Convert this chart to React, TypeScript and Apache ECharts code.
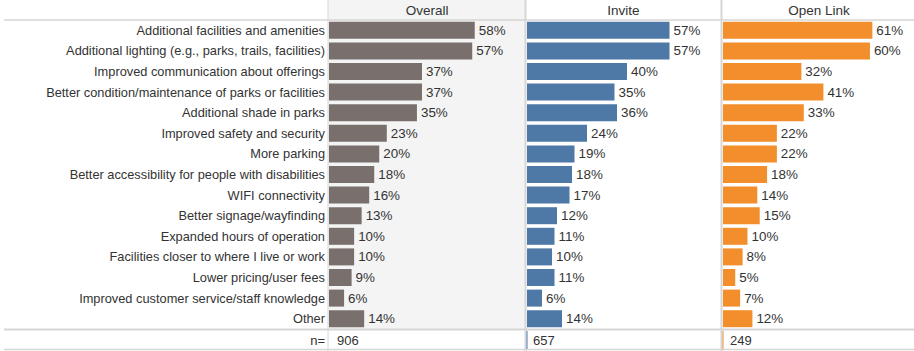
import React, { useEffect, useRef } from "react";
import * as echarts from "echarts";

const categories = [
  "Additional facilities and amenities",
  "Additional lighting (e.g., parks, trails, facilities)",
  "Improved communication about offerings",
  "Better condition/maintenance of parks or facilities",
  "Additional shade in parks",
  "Improved safety and security",
  "More parking",
  "Better accessibility for people with disabilities",
  "WIFI connectivity",
  "Better signage/wayfinding",
  "Expanded hours of operation",
  "Facilities closer to where I live or work",
  "Lower pricing/user fees",
  "Improved customer service/staff knowledge",
  "Other",
];
const overall = [58, 57, 37, 37, 35, 23, 20, 18, 16, 13, 10, 10, 9, 6, 14];
const invite = [57, 57, 40, 35, 36, 24, 19, 18, 17, 12, 11, 10, 11, 6, 14];
const openLink = [61, 60, 32, 41, 33, 22, 22, 18, 14, 15, 10, 8, 5, 7, 12];
const panelNames = ["Overall", "Invite", "Open Link"];
const nValues = [906, 657, 249];

const FONT = "'Liberation Sans', Arial, sans-serif";

export default function App() {
  const ref = useRef<HTMLDivElement>(null);
  useEffect(() => {
    if (!ref.current) return;
    const chart = echarts.init(ref.current, null, { renderer: "svg" });
    const panels = [
      { left: 329, width: 196, color: "#79706e", data: overall },
      { left: 527, width: 195, color: "#4e79a7", data: invite },
      { left: 723, width: 195, color: "#f28e2b", data: openLink },
    ];
    const top = 20;
    const height = 309;
    const max = 78;
    const lineColor = "#d6d6d6";
    const graphics: any[] = [
      { type: "rect", shape: { x: 328, y: 0, width: 197, height: 329 }, style: { fill: "#f4f4f4" }, z: -10 },
      { type: "line", shape: { x1: 4, y1: 20, x2: 914, y2: 20 }, style: { stroke: lineColor, lineWidth: 1.5 }, z: 10 },
      { type: "line", shape: { x1: 4, y1: 329.5, x2: 914, y2: 329.5 }, style: { stroke: lineColor, lineWidth: 2 }, z: 10 },
      { type: "line", shape: { x1: 4, y1: 349.5, x2: 914, y2: 349.5 }, style: { stroke: lineColor, lineWidth: 1.5 }, z: 10 },
      { type: "line", shape: { x1: 328, y1: 0, x2: 328, y2: 351 }, style: { stroke: lineColor, lineWidth: 1 }, z: 10 },
      { type: "line", shape: { x1: 525.5, y1: 0, x2: 525.5, y2: 351 }, style: { stroke: lineColor, lineWidth: 2 }, z: 10 },
      { type: "line", shape: { x1: 721.5, y1: 0, x2: 721.5, y2: 351 }, style: { stroke: lineColor, lineWidth: 2 }, z: 10 },
      { type: "line", shape: { x1: 527, y1: 331, x2: 527, y2: 349 }, style: { stroke: "#4e79a7", lineWidth: 1 }, z: 11 },
      { type: "line", shape: { x1: 723, y1: 331, x2: 723, y2: 349 }, style: { stroke: "#f28e2b", lineWidth: 1 }, z: 11 },
      {
        type: "text", x: 325, y: 340,
        style: { text: "n=", font: `13px ${FONT}`, fill: "#333", align: "right", verticalAlign: "middle" },
      },
    ];
    const headerCenters = [427, 623.5, 819];
    const nStarts = [337, 533, 730];
    panelNames.forEach((name, i) => {
      graphics.push({
        type: "text", x: headerCenters[i], y: 10,
        style: { text: name, font: `13.5px ${FONT}`, fill: "#333", align: "center", verticalAlign: "middle" },
      });
      graphics.push({
        type: "text", x: nStarts[i], y: 340,
        style: { text: String(nValues[i]), font: `13px ${FONT}`, fill: "#333", align: "left", verticalAlign: "middle" },
      });
    });

    chart.setOption({
      animation: false,
      textStyle: { fontFamily: FONT },
      grid: panels.map((p) => ({ left: p.left, top, width: p.width, height })),
      xAxis: panels.map((_, i) => ({
        type: "value", gridIndex: i, min: 0, max, show: false,
      })),
      yAxis: panels.map((_, i) => ({
        type: "category", gridIndex: i, data: categories, inverse: true,
        axisLine: { show: false }, axisTick: { show: false },
        axisLabel: i === 0
          ? { show: true, fontSize: 12.8, color: "#333", margin: 4, fontFamily: FONT }
          : { show: false },
      })),
      series: panels.map((p, i) => ({
        type: "bar", xAxisIndex: i, yAxisIndex: i, data: p.data, barWidth: 17,
        itemStyle: { color: p.color },
        label: {
          show: true, position: "right", distance: 4, formatter: "{c}%",
          fontSize: 13.4, color: "#333", fontFamily: FONT,
        },
      })),
      graphic: graphics,
    });
    return () => chart.dispose();
  }, []);
  return <div ref={ref} style={{ width: 914, height: 351, position: "absolute", left: 0, top: 0 }} />;
}
